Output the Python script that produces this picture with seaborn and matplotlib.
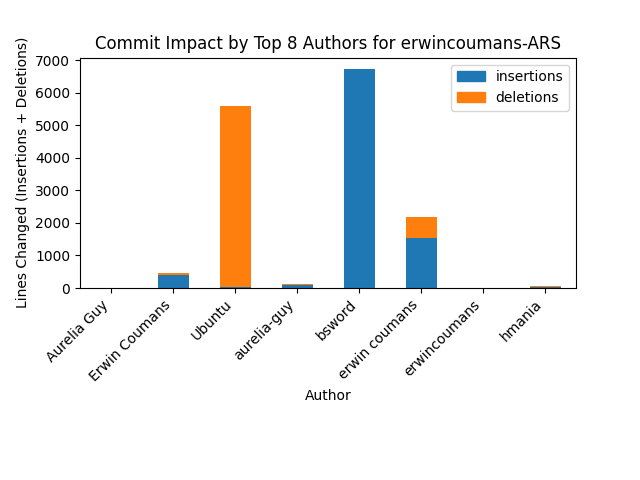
import numpy as np
import pandas as pd
import matplotlib
matplotlib.use("Agg")
import matplotlib.pyplot as plt
import seaborn as sns
from matplotlib.patches import Patch

# Datos
authors = ["Aurelia Guy", "Erwin Coumans", "Ubuntu", "aurelia-guy",
           "bsword", "erwin coumans", "erwincoumans", "hmania"]
insertions = [2, 400, 30, 90, 6720, 1550, 1, 20]
deletions = [1, 60, 5550, 40, 20, 620, 1, 40]

df = pd.DataFrame({"author": authors, "insertions": insertions, "deletions": deletions})
df["total"] = df["insertions"] + df["deletions"]

fig, ax = plt.subplots(figsize=(6.4, 4.8), dpi=100)

# barras apiladas: total (naranja) y encima las inserciones (azul)
sns.barplot(data=df, x="author", y="total", color="#ff7f0e", width=0.5,
            saturation=1, ax=ax)
sns.barplot(data=df, x="author", y="insertions", color="#1f77b4", width=0.5,
            saturation=1, ax=ax)

ax.set_title("Commit Impact by Top 8 Authors for erwincoumans-ARS")
ax.set_xlabel("Author")
ax.set_ylabel("Lines Changed (Insertions + Deletions)")
plt.setp(ax.get_xticklabels(), rotation=45, ha="right")

handles = [Patch(color="#1f77b4", label="insertions"),
           Patch(color="#ff7f0e", label="deletions")]
ax.legend(handles=handles, loc="upper right")

fig.subplots_adjust(bottom=0.4)
fig.savefig("out.png")
